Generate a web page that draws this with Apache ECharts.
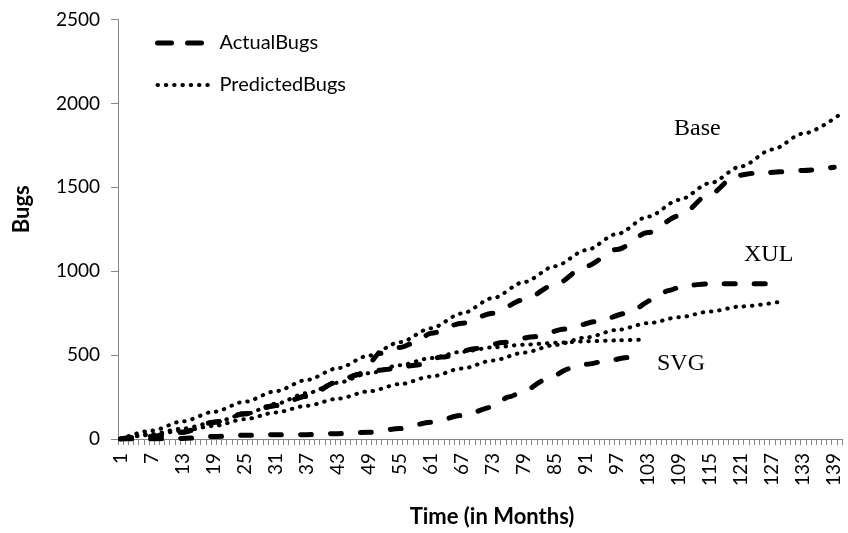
<!DOCTYPE html>
<html>
<head>
<meta charset="utf-8">
<title>Bugs over time</title>
<script src="https://cdn.jsdelivr.net/npm/echarts@6/dist/echarts.min.js"></script>
<style>
  html, body { margin: 0; padding: 0; background: #fff; }
  #chart { width: 848px; height: 533px; }
</style>
</head>
<body>
<div id="chart"></div>
<script>
// months on the x axis (1..140), labels every 6th month
var months = [];
for (var m = 1; m <= 140; m++) months.push(String(m));

var baseActualMonths = [1, 7, 13, 19, 25, 31, 37, 43, 47, 49, 51, 55, 58, 61, 67, 73, 79, 85, 91, 97, 103, 109, 115, 120, 124, 133, 139];
var baseActualBugs = [0, 15, 40, 100, 150, 200, 255, 340, 385, 450, 510, 545, 575, 630, 690, 750, 830, 920, 1030, 1130, 1230, 1330, 1460, 1570, 1585, 1600, 1620];

var xulActualMonths = [1, 7, 13, 19, 25, 31, 37, 43, 47, 51, 54, 58, 63, 70, 75, 81, 87, 93, 99, 104, 107, 110, 115, 121, 128];
var xulActualBugs = [0, 15, 40, 100, 150, 200, 255, 340, 385, 410, 420, 440, 488, 540, 575, 610, 655, 700, 750, 830, 885, 915, 925, 925, 925];

var svgActualMonths = [1, 7, 13, 19, 25, 31, 37, 43, 49, 55, 61, 67, 73, 76, 79, 83, 88, 91, 95, 99, 102];
var svgActualBugs = [0, 0, 3, 15, 22, 25, 26, 32, 40, 62, 100, 140, 190, 250, 285, 350, 420, 445, 465, 485, 488];

// predicted bugs (dotted)
var basePredMonths = [1, 7, 13, 19, 25, 31, 37, 43, 49, 55, 61, 67, 73, 79, 85, 91, 97, 103, 109, 115, 121, 127, 133, 140];
var basePredBugs = [0, 50, 105, 162, 222, 285, 352, 422, 497, 577, 660, 748, 840, 935, 1030, 1125, 1222, 1325, 1425, 1525, 1625, 1725, 1820, 1932];

var xulPredMonths = [1, 7, 13, 19, 25, 31, 37, 43, 49, 55, 61, 67, 73, 79, 85, 91, 97, 103, 109, 115, 121, 128];
var xulPredBugs = [0, 25, 50, 78, 118, 158, 198, 240, 284, 327, 372, 420, 468, 515, 560, 605, 650, 690, 726, 760, 790, 815];

var svgPredMonths = [1, 7, 13, 19, 25, 31, 37, 43, 49, 55, 61, 67, 73, 79, 85, 91, 97, 102];
var svgPredBugs = [0, 30, 62, 98, 148, 210, 273, 335, 392, 440, 482, 520, 546, 562, 573, 582, 588, 592];

var yTicks = { min: 0, max: 2500, step: 500 };

// pair month + value so the category axis places them
function pairs(ms, vs) {
  var out = [];
  for (var i = 0; i < ms.length; i++) out.push([String(ms[i]), vs[i]]);
  return out;
}

var dashed = { color: '#000', width: 5, type: [11, 19], cap: 'round' };
var dotted = { color: '#000', width: 4, type: [0.5, 7.8], cap: 'round' };

function line(name, data, style) {
  return {
    name: name,
    type: 'line',
    data: data,
    symbol: 'none',
    smooth: 0.3,
    smoothMonotone: 'x',
    lineStyle: style,
    itemStyle: { color: '#000' }
  };
}

var chart = echarts.init(document.getElementById('chart'));
var axisGrey = '#868686';

chart.setOption({
  animation: false,
  backgroundColor: '#fff',
  grid: { left: 118, right: 6, top: 19.5, bottom: 93 },
  legend: {
    orient: 'vertical',
    left: 150,
    top: 26,
    itemWidth: 52,
    itemHeight: 14,
    itemGap: 18,
    // legend line width defaults to 2, so give it the series widths
    data: [
      { name: 'ActualBugs', lineStyle: { width: 5, type: [14, 16], cap: 'round' } },
      { name: 'PredictedBugs', lineStyle: { width: 4, type: [0.5, 7.8], cap: 'round' } }
    ],
    // hide the circle marker that line legends get, keep the line
    itemStyle: { opacity: 0 },
    textStyle: { fontFamily: 'Lato', fontSize: 20, color: '#000', lineHeight: 24, padding: [0, 0, 0, 5] }
  },
  xAxis: {
    type: 'category',
    data: months,
    boundaryGap: true,
    name: 'Time (in Months)',
    nameLocation: 'middle',
    nameGap: 67,
    nameTextStyle: { fontFamily: 'Lato', fontWeight: 'bold', fontSize: 22, color: '#000', padding: [0, 0, 0, 24] },
    axisLine: { lineStyle: { color: axisGrey, width: 1 } },
    axisTick: { show: true, interval: 0, length: 6, lineStyle: { color: axisGrey } },
    axisLabel: { interval: 5, rotate: 90, margin: 14, fontFamily: 'Lato', fontSize: 19, color: '#000' },
    splitLine: { show: false }
  },
  yAxis: {
    type: 'value',
    min: yTicks.min,
    max: yTicks.max,
    interval: yTicks.step,
    name: 'Bugs',
    nameLocation: 'middle',
    nameGap: 85,
    nameTextStyle: { fontFamily: 'Lato', fontWeight: 'bold', fontSize: 22, color: '#000', padding: [0, 0, 0, 40] },
    axisLine: { show: true, lineStyle: { color: axisGrey, width: 1 } },
    axisTick: { show: true, length: 7, lineStyle: { color: axisGrey } },
    axisLabel: {
      margin: 18, fontFamily: 'Lato', fontSize: 19, color: '#000',
      formatter: function (v) { return String(v); }
    },
    splitLine: { show: false }
  },
  graphic: [
    { type: 'text', left: 674, top: 116.5, style: { text: 'Base', font: '24px "Liberation Serif"', fill: '#000' } },
    { type: 'text', left: 744, top: 243, style: { text: 'XUL', font: '24px "Liberation Serif"', fill: '#000' } },
    { type: 'text', left: 657, top: 351.5, style: { text: 'SVG', font: '24px "Liberation Serif"', fill: '#000' } }
  ],
  series: [
    line('ActualBugs', pairs(baseActualMonths, baseActualBugs), dashed),
    line('ActualBugs', pairs(xulActualMonths, xulActualBugs), dashed),
    line('ActualBugs', pairs(svgActualMonths, svgActualBugs), dashed),
    line('PredictedBugs', pairs(basePredMonths, basePredBugs), dotted),
    line('PredictedBugs', pairs(xulPredMonths, xulPredBugs), dotted),
    line('PredictedBugs', pairs(svgPredMonths, svgPredBugs), dotted)
  ]
});
</script>
</body>
</html>
